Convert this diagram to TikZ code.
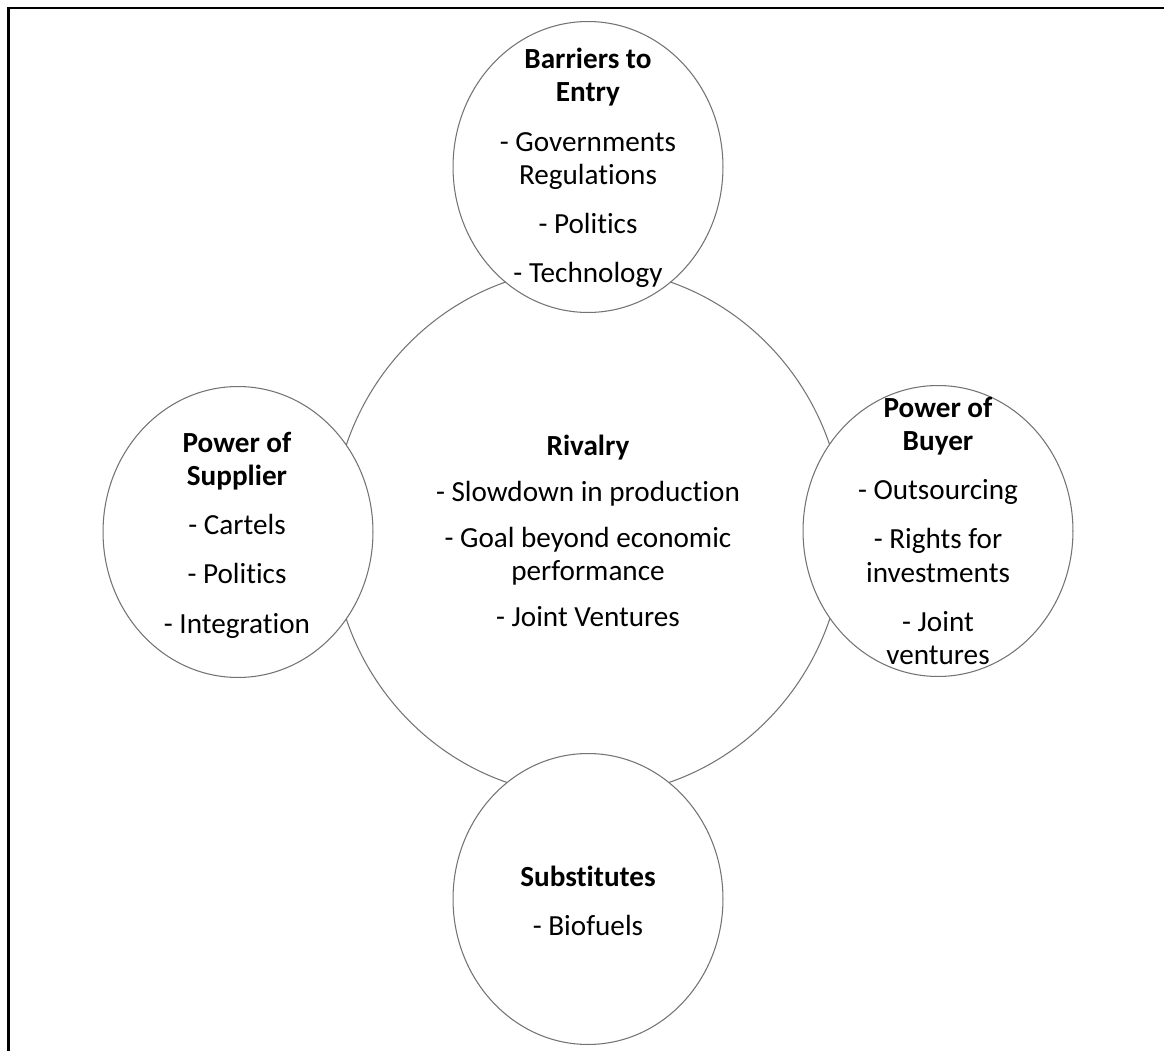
\documentclass[tikz,border=0pt]{standalone}
\usepackage{fontspec}
\setmainfont{Carlito}[Ligatures=NoCommon]
\usepackage{tikz}
\usetikzlibrary{shapes.geometric}
\tikzstyle{rival} = [ellipse, minimum width=10.24cm, minimum height=10.56cm, draw=black!55, line width=0.6pt]
\tikzstyle{force} = [ellipse, minimum width=5.4cm, minimum height=5.82cm, draw=black!55, fill=white, line width=0.6pt]
\tikzstyle{txt} = [align=center, inner sep=0pt, font=\fontsize{16.6}{19}\selectfont]
\tikzstyle{frame} = [line width=1.4pt]

\begin{document}
\begin{tikzpicture}[x=0.02cm, y=-0.02cm]
    \useasboundingbox (0,0) rectangle (1164,1051);
    \draw [frame] (8.5,1051) -- (8.5,8) -- (1164,8);

    \node (riv) [rival] at (588,532) {};
    \node (bar) [force] at (588,167) {};
    \node (sup) [force] at (238,532) {};
    \node (buy) [force] at (938,531) {};
    \node (sub) [force] at (588,899) {};

    \node (rivT) [txt] at (588,531) {\textbf{Rivalry}\\[7pt] - Slowdown in production\\[7pt] - Goal beyond economic\\ performance\\[7pt] - Joint Ventures};
    \node (barT) [txt] at (588,168) {\textbf{Barriers to}\\ \textbf{Entry}\\[9pt] - Governments\\ Regulations\\[9pt] - Politics\\[9pt] - Technology};
    \node (supT) [txt] at (237,535) {\textbf{Power of}\\ \textbf{Supplier}\\[9pt] - Cartels\\[9pt] - Politics\\[9pt] - Integration};
    \node (buyT) [txt] at (938,531) {\textbf{Power of}\\ \textbf{Buyer}\\[9pt] - Outsourcing\\[9pt] - Rights for\\ investments\\[9pt] - Joint\\ ventures};
    \node (subT) [txt] at (588,901) {\textbf{Substitutes}\\[9pt] - Biofuels};
\end{tikzpicture}
\end{document}
